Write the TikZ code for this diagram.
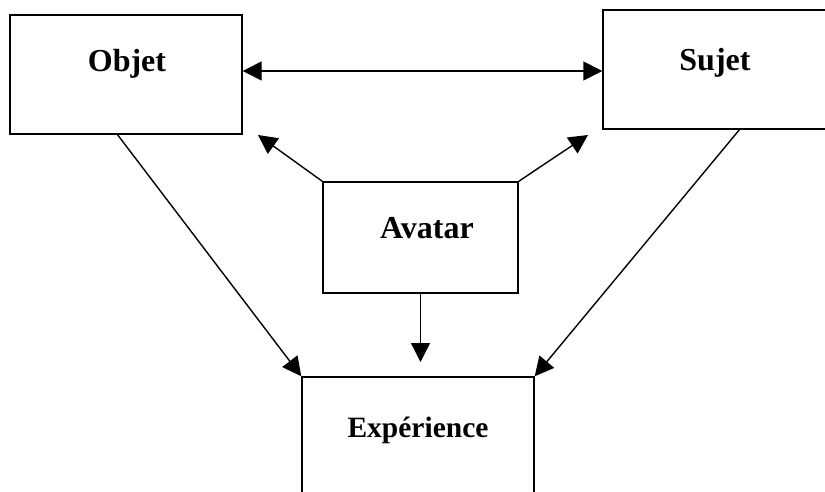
\documentclass[tikz,border=0pt]{standalone}
\usepackage{fontspec}
\setmainfont{Liberation Serif}
\usetikzlibrary{arrows.meta}
\begin{document}
\begin{tikzpicture}[x=1pt,y=-1pt,
  box/.style={draw, line width=1.4pt, rectangle, inner sep=0pt, anchor=center},
  lbl/.style={anchor=base, inner sep=0pt, font=\bfseries\fontsize{32}{36}\selectfont},
  conn/.style={line width=1.4pt, -{Triangle[length=19pt,width=19pt]}}]
\clip (0,0) rectangle (825,492);
\fill[white] (0,0) rectangle (825,492);
% boxes
\node[box, minimum width=232pt, minimum height=119pt] (obj) at (126,74.5) {};
\node[box, minimum width=223pt, minimum height=119pt] (suj) at (714.5,69.5) {};
\node[box, minimum width=195pt, minimum height=111pt] (ava) at (420.5,237.5) {};
\node[box, minimum width=232pt, minimum height=123pt] (exp) at (418,438.5) {};
% labels
\node[lbl] (tobj) at (127,72) {Objet};
\node[lbl] (tsuj) at (715,71) {Sujet};
\node[lbl] (tava) at (427,238) {Avatar};
\node[lbl, font=\bfseries\fontsize{29.5}{34}\selectfont] (texp) at (418,437) {Expérience};
% free ends
\coordinate (tl) at (258,135);
\coordinate (tr) at (588,135);
\coordinate (td) at (420.5,362);
\coordinate (os) at (117,134);
\coordinate (ss) at (740,129);
% connectors
\draw[conn, {Triangle[length=19pt,width=19pt]}-{Triangle[length=19pt,width=19pt]}] ([yshift=-1.5pt]obj.east |- suj.west) -- ([yshift=-1.5pt]suj.west);
\draw[conn] (ava.north west) -- (tl);
\draw[conn] (ava.north east) -- (tr);
\draw[conn] (ava.south) -- (td);
\draw[conn] (os) -- (exp.north west);
\draw[conn] (ss) -- (exp.north east);
\end{tikzpicture}
\end{document}
